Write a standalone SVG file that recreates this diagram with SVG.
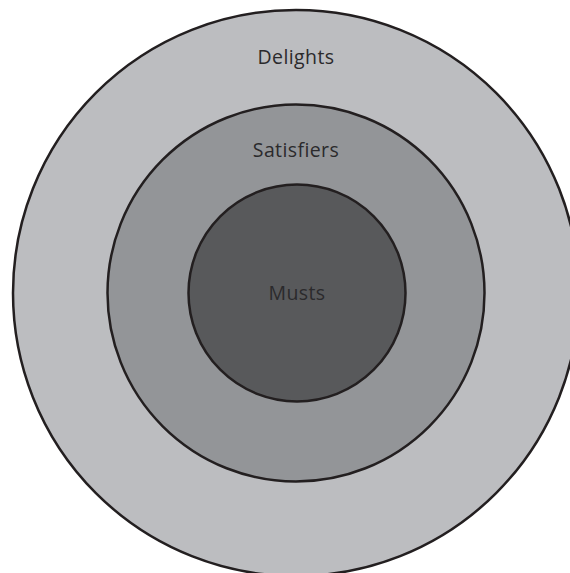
<svg xmlns="http://www.w3.org/2000/svg" width="570" height="573" viewBox="0 0 570 573">
<style>
.ring{stroke:#231f20;stroke-width:2.5}
.lbl{font-family:"Open Sans","Liberation Sans",sans-serif;font-size:19.5px;letter-spacing:0.4px;fill:#2b2a2c;text-anchor:middle;font-variant-ligatures:none}
</style>
<rect width="570" height="573" fill="#ffffff"/>
<g id="delights">
<circle class="ring" cx="296" cy="293" r="283" fill="#bcbdc0"/>
<text class="lbl" x="296" y="64">Delights</text>
</g>
<g id="satisfiers">
<circle class="ring" cx="296" cy="293" r="188.5" fill="#939598"/>
<text class="lbl" x="296" y="157">Satisfiers</text>
</g>
<g id="musts">
<circle class="ring" cx="297" cy="293" r="108.5" fill="#58595b"/>
<text class="lbl" x="297" y="300">Musts</text>
</g>
<g id="connectors"/>
</svg>
